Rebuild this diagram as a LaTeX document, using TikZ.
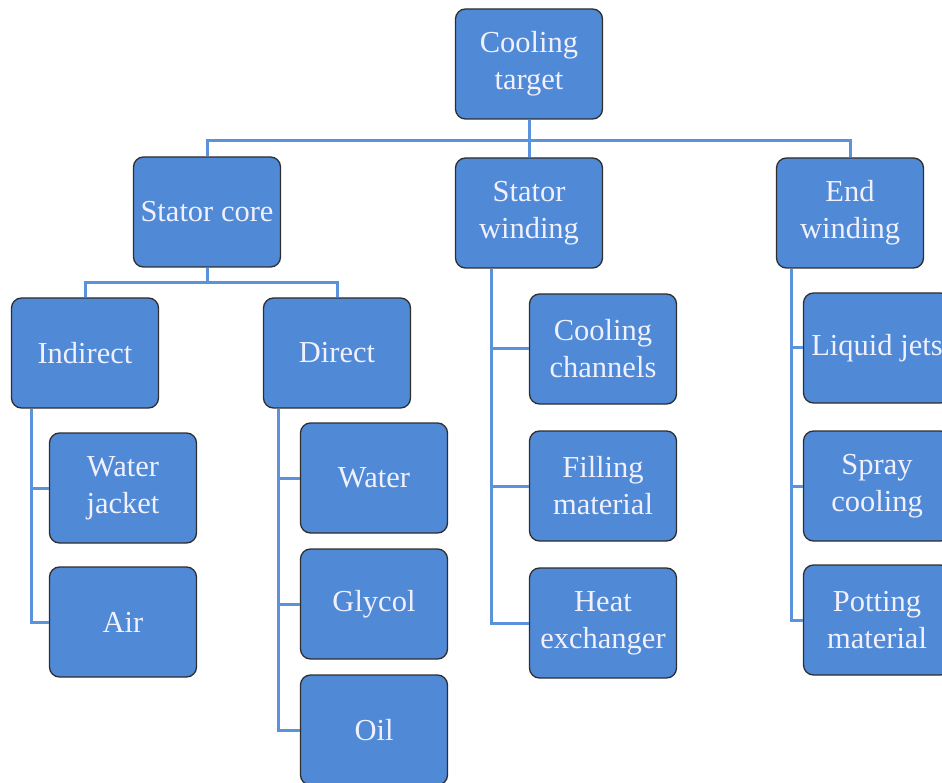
\documentclass[tikz,border=0pt]{standalone}
\usepackage{fontspec}
\setmainfont{Liberation Serif}
\usetikzlibrary{positioning}

\definecolor{boxblue}{HTML}{5089D5}
\definecolor{linkblue}{HTML}{5B92DC}
\definecolor{edgegray}{HTML}{2E2E2E}

\begin{document}
\begin{tikzpicture}[
  x=1pt, y=-1pt,
  box/.style={
    draw=edgegray,
    line width=1.3pt,
    rounded corners=10pt,
    fill=boxblue,
    text=white!94!blue,
    align=center,
    font=\fontsize{30.5}{37}\selectfont,
    minimum width=147pt,
    minimum height=110pt,
    inner sep=0pt
  },
  link/.style={draw=linkblue, line width=3pt}
]
\useasboundingbox (0,0) rectangle (942,783);

\coordinate (topbus) at (529,141);
\coordinate (corebus) at (207,283);

% level 1
\node[box] (target) at (529,64) {Cooling\\target};
\node[box] (core) at (207,212) {Stator core};
\node[box] (swind) at (529,213) {Stator\\winding};
\node[box] (ewind) at (850,213) {End\\winding};

% level 2
\node[box] (indirect) at (85,353) {Indirect};
\node[box] (direct) at (337,353) {Direct};
\node[box] (channels) at (603,349) {Cooling\\channels};
\node[box] (filling) at (603,486) {Filling\\material};
\node[box] (hex) at (603,623) {Heat\\exchanger};
\node[box] (jets) at (877,348) {Liquid jets};
\node[box] (spray) at (877,486) {Spray\\cooling};
\node[box] (potting) at (877,620) {Potting\\material};

% level 3
\node[box] (jacket) at (123,488) {Water\\jacket};
\node[box] (air) at (123,622) {Air};
\node[box] (water) at (374,478) {Water};
\node[box] (glycol) at (374,604) {Glycol};
\node[box] (oil) at (374,730) {Oil};

\draw[link] (target.south) -- (topbus) -| (core.north);
\draw[link] (topbus) -- (swind.north);
\draw[link] (topbus) -| (ewind.north);

\draw[link] (core.south) -- (corebus) -| (indirect.north);
\draw[link] (corebus) -| (direct.north);

\draw[link] ([xshift=21pt]indirect.south west) |- (jacket.west);
\draw[link] ([xshift=21pt]indirect.south west) |- (air.west);

\draw[link] ([xshift=16pt]direct.south west) |- (water.west);
\draw[link] ([xshift=16pt]direct.south west) |- (glycol.west);
\draw[link] ([xshift=16pt]direct.south west) |- (oil.west);

\draw[link] ([xshift=37pt]swind.south west) |- (channels.west);
\draw[link] ([xshift=37pt]swind.south west) |- (filling.west);
\draw[link] ([xshift=37pt]swind.south west) |- (hex.west);

\draw[link] ([xshift=16pt]ewind.south west) |- (jets.west);
\draw[link] ([xshift=16pt]ewind.south west) |- (spray.west);
\draw[link] ([xshift=16pt]ewind.south west) |- (potting.west);

\end{tikzpicture}
\end{document}
